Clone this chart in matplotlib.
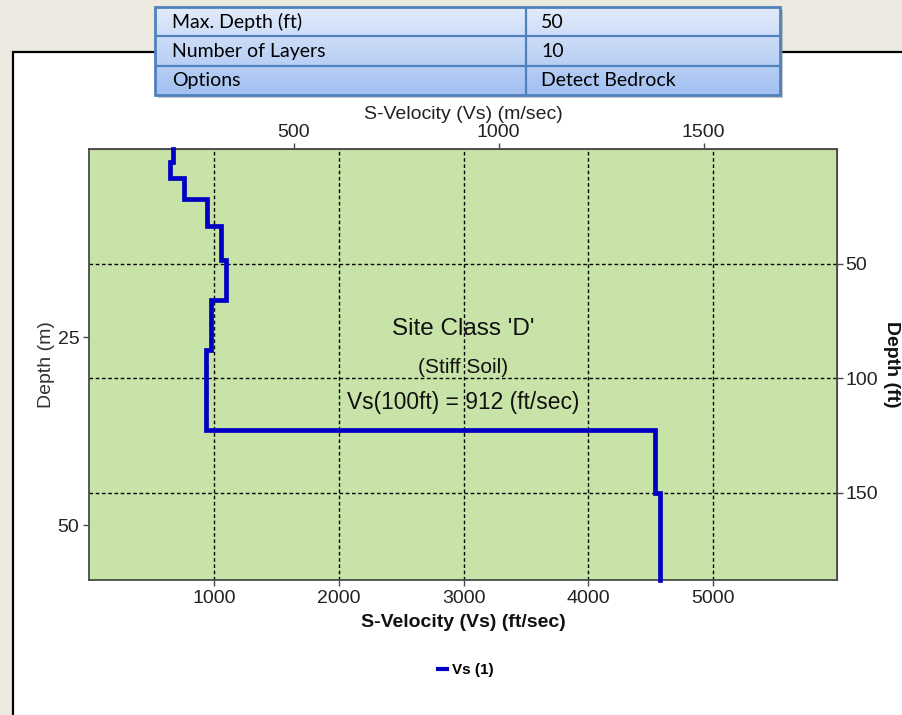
import numpy as np
import matplotlib
matplotlib.use("Agg")
import matplotlib.pyplot as plt
from matplotlib.patches import Rectangle
from matplotlib.lines import Line2D

# ---------------- data ----------------
layer_top_m = [0.0, 1.7, 3.9, 6.7, 10.2, 14.7, 20.1, 26.7, 37.4, 45.8]
layer_vs_fts = [674, 648, 762, 942, 1056, 1096, 976, 936, 4534, 4574]
max_depth_m = 57.3
x_max_fts = 5990

x_ticks_fts = [1000, 2000, 3000, 4000, 5000]
x_ticks_ms = [500, 1000, 1500]
y_ticks_m = [25, 50]
y_ticks_ft = [50, 100, 150]

table_labels = ["Max. Depth (ft)", "Number of Layers", "Options"]
table_values = ["50", "10", "Detect Bedrock"]

annot_lines = ["Site Class 'D'", "(Stiff Soil)", "Vs(100ft) = 912 (ft/sec)"]
legend_label = "Vs (1)"

FT_PER_M = 1 / 0.3048

# ---------------- figure ----------------
W, H = 903, 715
fig = plt.figure(figsize=(W / 100, H / 100), dpi=100)
fig.patch.set_facecolor("#ECE9E0")
plt.rcParams["font.family"] = ["Liberation Sans", "DejaVu Sans"]


def fbox(x0, y0, x1, y1):
    """pixel box (top-left origin) -> figure fraction rect"""
    return [x0 / W, 1 - y1 / H, (x1 - x0) / W, (y1 - y0) / H]


# white panel with black border
r = fbox(13, 52, W + 20, H + 20)
fig.patches.append(Rectangle((r[0], r[1]), r[2], r[3], transform=fig.transFigure,
                             facecolor="white", edgecolor="black", linewidth=1.6,
                             zorder=-10))

# ---------------- main axes ----------------
ax = fig.add_axes(fbox(89, 149, 837, 580))
ax.set_zorder(2)
ax.set_facecolor("#C7E3A7")
ax.set_xlim(0, x_max_fts)
ax.set_ylim(max_depth_m, 0)

spine_c = "#4a4a4a"
for s in ax.spines.values():
    s.set_color(spine_c)
    s.set_linewidth(1.3)

tick_c = "#222222"
ax.set_xticks(x_ticks_fts)
ax.set_yticks(y_ticks_m)
ax.tick_params(axis="both", direction="out", length=4, width=1, colors=spine_c,
               labelcolor=tick_c, labelsize=14, pad=3)

ax.set_xlabel("S-Velocity (Vs) (ft/sec)", fontsize=14, fontweight="bold",
              color="#111111", labelpad=5)
ax.set_ylabel("Depth (m)", fontsize=14, color="#333333", labelpad=2)

# grid: vertical at bottom ticks, horizontal at right (ft) ticks
grid_kw = dict(color="black", linewidth=1.0, linestyle=(0, (2.6, 1.9)), zorder=1)
for t in x_ticks_fts:
    ax.axvline(t, **grid_kw)
for t in y_ticks_ft:
    ax.axhline(t / FT_PER_M, **grid_kw)

# secondary axes
secx = ax.secondary_xaxis("top", functions=(lambda v: v * 0.3048, lambda v: v / 0.3048))
secx.set_xticks(x_ticks_ms)
secx.tick_params(direction="out", length=4, width=1, colors=spine_c,
                 labelcolor=tick_c, labelsize=14, pad=2)
secx.spines["top"].set_color(spine_c)
secx.set_xlabel("S-Velocity (Vs) (m/sec)", fontsize=14, color="#222222", labelpad=3)

secy = ax.secondary_yaxis("right", functions=(lambda d: d * FT_PER_M, lambda d: d / FT_PER_M))
secy.set_yticks(y_ticks_ft)
secy.tick_params(direction="out", length=4, width=1, colors=spine_c,
                 labelcolor=tick_c, labelsize=14, pad=2)
secy.spines["right"].set_color(spine_c)

# step profile
bottoms = layer_top_m[1:] + [max_depth_m]
xs, ys = [], []
for v, t, b in zip(layer_vs_fts, layer_top_m, bottoms):
    xs += [v, v]
    ys += [t, b]
ax.plot(xs, ys, color="#0000C4", linewidth=3.4, solid_joinstyle="miter",
        zorder=3, clip_on=False)

# annotation
ann_kw = dict(transform=ax.transAxes, ha="center", va="center", color="#111111", zorder=4)
ax.text(0.5, 1 - (329 - 149) / 431, annot_lines[0], fontsize=17.5, **ann_kw)
ax.text(0.5, 1 - (368 - 149) / 431, annot_lines[1], fontsize=15, **ann_kw)
ax.text(0.5, 1 - (403 - 149) / 431, annot_lines[2], fontsize=16.4, **ann_kw)

# right label (bold, rotated downward)
fig.text(892 / W, 1 - 364 / H, "Depth (ft)", rotation=-90, ha="center", va="center",
         fontsize=14, fontweight="bold", color="#111111")

# legend
fig.legend(handles=[Line2D([], [], color="#0000C4", linewidth=3)], labels=[legend_label],
           loc="center", bbox_to_anchor=(466 / W, 1 - 670 / H), frameon=False,
           handlelength=0.6, handletextpad=0.3,
           prop={"weight": "bold", "size": 11})

# ---------------- table ----------------
tx0, ty0, tx1, ty1 = 155, 7, 780, 95
# shadow
sr = fbox(tx0 + 3, ty0 + 3, tx1 + 3, ty1 + 3)
fig.patches.append(Rectangle((sr[0], sr[1]), sr[2], sr[3], transform=fig.transFigure,
                             facecolor="#7f7f7f", edgecolor="none", alpha=0.45, zorder=8))
tax = fig.add_axes(fbox(tx0, ty0, tx1, ty1), zorder=9)
tw, th = tx1 - tx0, ty1 - ty0
tax.set_xlim(0, tw)
tax.set_ylim(th, 0)
tax.axis("off")
c_top = np.array([0xE2, 0xEB, 0xFB]) / 255
c_bot = np.array([0xA2, 0xC0, 0xF1]) / 255
g = np.linspace(0, 1, 100)[:, None, None]
grad = (c_top * (1 - g) + c_bot * g)
tax.imshow(np.repeat(grad, 2, axis=1), extent=[0, tw, th, 0], aspect="auto",
           interpolation="bilinear", zorder=0)
border = "#4F81BD"
nrows = len(table_labels)
rh = th / nrows
col_x = 371
tax.add_patch(Rectangle((0, 0), tw, th, facecolor="none", edgecolor=border,
                        linewidth=2, clip_on=False, zorder=2))
for i in range(1, nrows):
    tax.plot([0, tw], [i * rh, i * rh], color=border, linewidth=1.6, zorder=2)
tax.plot([col_x, col_x], [0, th], color=border, linewidth=1.6, zorder=2)
for i, (lab, val) in enumerate(zip(table_labels, table_values)):
    yc = (i + 0.5) * rh + 0.5
    tax.text(17, yc, lab, ha="left", va="center", fontsize=14, family="Lato",
             color="black", zorder=3)
    tax.text(col_x + 15, yc, val, ha="left", va="center", fontsize=14, family="Lato",
             color="black", zorder=3)

fig.savefig("out.png", dpi=100, facecolor=fig.get_facecolor())
